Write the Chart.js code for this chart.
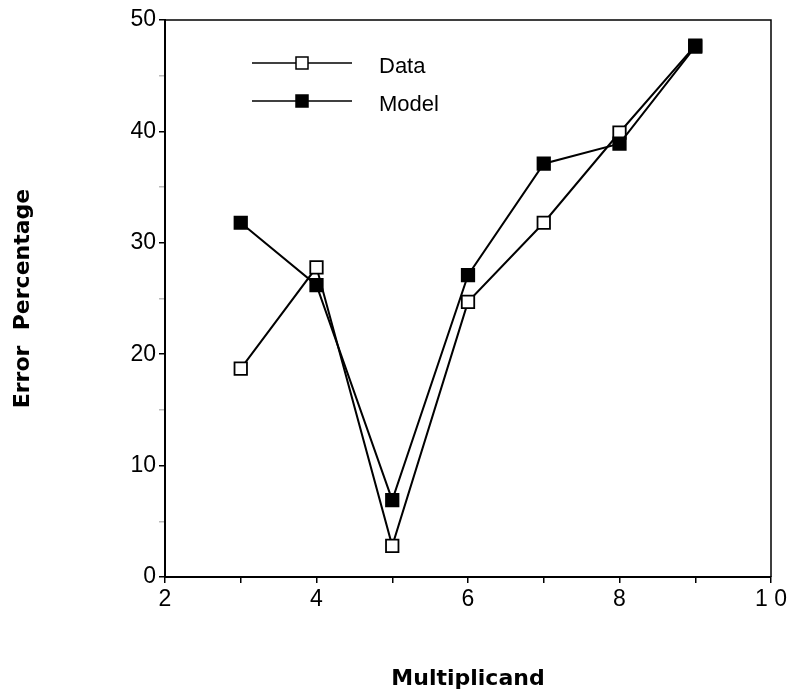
<!DOCTYPE html>
<html>
<head>
<meta charset="utf-8">
<script src="https://cdn.jsdelivr.net/npm/chart.js@4/dist/chart.umd.min.js"></script>
<style>
  html, body { margin: 0; padding: 0; background: #fff; }
  .chart-box { width: 791px; height: 696px; position: relative; }
</style>
</head>
<body>
<div class="chart-box"><canvas id="chart"></canvas></div>
<script>
const multiplicands = [3, 4, 5, 6, 7, 8, 9];
const dataErrors = [18.7, 27.8, 2.8, 24.7, 31.8, 39.9, 47.7];
const modelErrors = [31.8, 26.2, 6.9, 27.1, 37.1, 38.9, 47.6];
const seriesLabels = ['Data', 'Model'];
const xTickLabels = { 2: '2', 4: '4', 6: '6', 8: '8', 10: '1 0' };
const yTickLabels = [0, 10, 20, 30, 40, 50];

const ink = '#000';
const sans = "'Liberation Sans', Arial, Helvetica, sans-serif";
const tickFont = { family: sans, size: 23 };
const titleFont = { family: "'DejaVu Sans', sans-serif", size: 22, weight: 'bold' };

function points(ys) {
  return multiplicands.map((x, i) => ({ x, y: ys[i] }));
}

// top and right edges of the plot frame
const frame = {
  id: 'frame',
  afterDatasetsDraw(chart) {
    const { ctx, chartArea: a } = chart;
    ctx.save();
    ctx.strokeStyle = ink;
    ctx.lineWidth = 1.5;
    ctx.beginPath();
    ctx.moveTo(a.left, a.top);
    ctx.lineTo(a.right, a.top);
    ctx.lineTo(a.right, a.bottom);
    ctx.stroke();
    ctx.restore();
  }
};

// legend inside the plot: line, marker, line, then label
const insideLegend = {
  id: 'insideLegend',
  afterDraw(chart) {
    const { ctx, chartArea: a } = chart;
    ctx.save();
    chart.data.datasets.forEach((ds, i) => {
      const y = a.top + 43 + i * 38;
      const x0 = a.left + 87;
      const x1 = a.left + 187;
      ctx.strokeStyle = ink;
      ctx.lineWidth = 1.5;
      ctx.beginPath();
      ctx.moveTo(x0, y);
      ctx.lineTo(x1, y);
      ctx.stroke();
      const s = 12;
      const cx = (x0 + x1) / 2;
      ctx.fillStyle = ds.pointBackgroundColor;
      ctx.fillRect(cx - s / 2, y - s / 2, s, s);
      ctx.strokeRect(cx - s / 2, y - s / 2, s, s);
      ctx.fillStyle = ink;
      ctx.font = `22px ${sans}`;
      ctx.textBaseline = 'middle';
      ctx.fillText(ds.label, a.left + 214, y + 4);
    });
    ctx.restore();
  }
};

new Chart(document.getElementById('chart'), {
  type: 'line',
  data: {
    datasets: [
      {
        label: seriesLabels[0],
        data: points(dataErrors),
        order: 1,
        borderColor: ink,
        borderWidth: 2,
        pointStyle: 'rect',
        pointRadius: 8.8,
        pointBorderWidth: 1.8,
        pointBorderColor: ink,
        pointBackgroundColor: '#fff',
        tension: 0,
        fill: false
      },
      {
        label: seriesLabels[1],
        data: points(modelErrors),
        order: 0,
        borderColor: ink,
        borderWidth: 2,
        pointStyle: 'rect',
        pointRadius: 8.8,
        pointBorderWidth: 1.8,
        pointBorderColor: ink,
        pointBackgroundColor: ink,
        tension: 0,
        fill: false
      }
    ]
  },
  options: {
    responsive: true,
    maintainAspectRatio: false,
    animation: false,
    layout: { padding: { top: 20, right: 20, bottom: 0, left: 0 } },
    plugins: { legend: { display: false }, tooltip: { enabled: false } },
    scales: {
      x: {
        type: 'linear',
        min: 2,
        max: 10,
        afterFit: (scale) => { scale.height = 119; },
        ticks: {
          stepSize: 1,
          autoSkip: false,
          maxRotation: 0,
          color: ink,
          font: tickFont,
          padding: 3,
          callback: (v) => xTickLabels[v] ?? ''
        },
        grid: { drawOnChartArea: false, drawTicks: true, tickLength: 6, color: ink, lineWidth: 1.5 },
        border: { display: true, color: ink, width: 2 },
        title: { display: true, text: 'Multiplicand', color: ink, font: titleFont, padding: 4 }
      },
      y: {
        min: 0,
        max: 50,
        afterFit: (scale) => { scale.width = 165; },
        ticks: {
          stepSize: 5,
          autoSkip: false,
          color: ink,
          font: tickFont,
          padding: 3,
          callback: (v) => (yTickLabels.includes(v) ? String(v) : '')
        },
        grid: {
          drawOnChartArea: false,
          drawTicks: true,
          tickLength: 6,
          color: ink,
          tickColor: (c) => (c.tick && yTickLabels.includes(c.tick.value) ? ink : '#bbb'),
          lineWidth: 1.5
        },
        border: { display: true, color: ink, width: 2 },
        title: { display: true, text: 'Error  Percentage', color: ink, font: titleFont, padding: 10 }
      }
    }
  },
  plugins: [frame, insideLegend]
});
</script>
</body>
</html>
